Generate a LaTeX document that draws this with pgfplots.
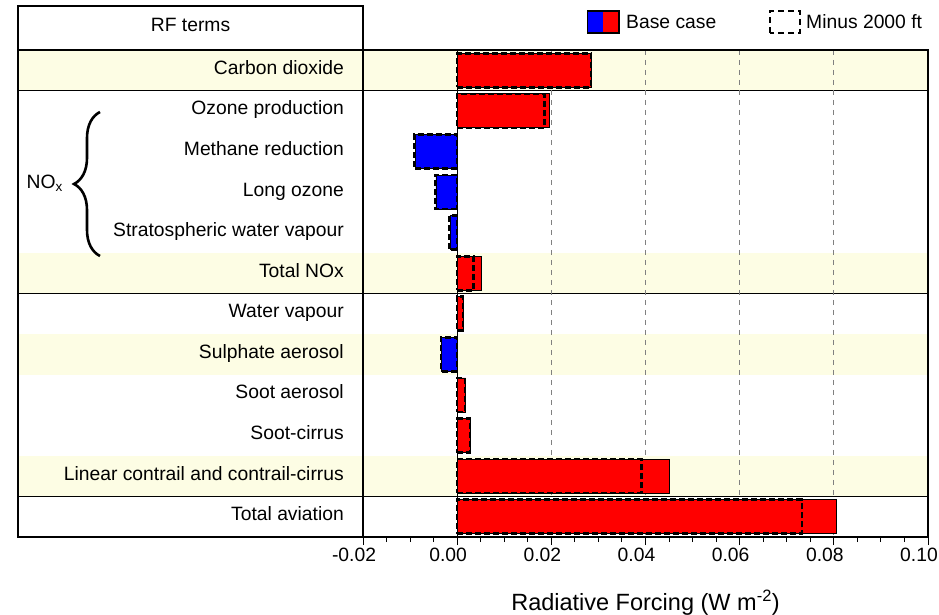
\documentclass[border=0pt]{standalone}
\usepackage{pgfplots}
\pgfplotsset{compat=1.18}
\usetikzlibrary{decorations.pathreplacing}
\usepackage{fontspec}
\setmainfont{Liberation Sans}
\definecolor{rowshade}{RGB}{253,253,228}
\definecolor{myred}{RGB}{255,0,0}
\definecolor{myblue}{RGB}{0,0,255}
\newcommand{\ff}{\fontsize{19.3bp}{23bp}\selectfont}

\begin{document}
\begin{tikzpicture}[x=1bp,y=1bp]
\useasboundingbox (0,0) rectangle (939,615);
% shaded rows
\fill[rowshade] (18,565) rectangle (928,524.42);
\fill[rowshade] (18,362.08) rectangle (928,321.5);
\fill[rowshade] (18,280.92) rectangle (928,240.33);
\fill[rowshade] (18,159.17) rectangle (928,118.58);
% table frame and separators
\draw[line width=1.3bp] (18,609) rectangle (363,78);
\draw[line width=1.3bp] (18,565) -- (928,565);
\draw[line width=1.3bp] (18,524.42) -- (928,524.42);
\draw[line width=1.3bp] (18,321.5) -- (928,321.5);
\draw[line width=1.3bp] (18,118.58) -- (928,118.58);
% header
\node[font=\ff, text height=1em, text depth=0.2em, inner sep=0] at (190.5,587.5) {RF terms};
% row labels
\foreach \lab [count=\i] in {Carbon dioxide,Ozone production,Methane reduction,Long ozone,Stratospheric water vapour,Total NOx,Water vapour,Sulphate aerosol,Soot aerosol,Soot-cirrus,Linear contrail and contrail-cirrus,Total aviation}{
  \node[font=\ff, anchor=east, text height=1em, text depth=0.2em, inner sep=0] at (344,{565-40.583*(\i-0.5)}) {\lab};
}
% NOx brace
\draw[line width=2.6bp, decorate, decoration={brace, amplitude=26bp}] (100,359) -- (100,503);
\node[anchor=east, inner sep=0, font=\ff] at (63,432) {NO\textsubscript{x}};
% legend
\fill[myblue] (587.7,582) rectangle (603.3,604);
\fill[myred] (603.3,582) rectangle (619,604);
\draw[line width=1.2bp] (587.7,582) rectangle (619,604);
\node[anchor=west, inner sep=0, font=\ff] at (626,593) {Base case};
\draw[line width=2.2bp, dash pattern=on 6bp off 4bp] (770,582) rectangle (800,604);
\node[anchor=west, inner sep=0, font=\ff] at (806,593) {Minus 2000 ft};

\begin{axis}[
  at={(363bp,78bp)}, anchor=south west,
  scale only axis, width=565bp, height=487bp,
  xmin=-0.02, xmax=0.10, ymin=0.5, ymax=12.5, y dir=reverse,
  xbar, bar width=34bp, bar shift=0pt,
  xtick={-0.02,0,0.02,0.04,0.06,0.08,0.10},
  minor x tick num=3,
  ytick=\empty,
  xtick pos=lower, tick align=outside,
  major tick length=8bp, minor tick length=5bp,
  tick style={black, line width=1bp},
  xmajorgrids,
  grid style={gray, line width=0.8bp, dash pattern=on 5bp off 5bp},
  scaled x ticks=false,
  xticklabel style={xshift=-9bp, /pgf/number format/.cd, fixed, fixed zerofill, precision=2, assume math mode=true},
  tick label style={font=\ff},
  axis line style={line width=1.3bp},
  clip=false,
  xlabel={Radiative Forcing (W m\textsuperscript{-2})},
  xlabel style={font=\fontsize{23.5bp}{26bp}\selectfont, at={(axis description cs:0.5,-0.1505)}, anchor=base},
]
\draw[line width=1bp] (axis cs:0,0.5) -- (axis cs:0,12.5);
% base case, positive
\addplot[fill=myred, draw=black, line width=0.8bp] coordinates {
 (0.0285,1) (0.0195,2) (0.0052,6) (0.0013,7) (0.0018,9) (0.0028,10) (0.0450,11) (0.0806,12)};
% base case, negative
\addplot[fill=myblue, draw=black, line width=0.8bp] coordinates {
 (-0.0088,3) (-0.0045,4) (-0.0015,5) (-0.0033,8)};
% minus 2000 ft
\addplot[fill=none, draw=black, line width=2.6bp, dash pattern=on 6bp off 3bp] coordinates {
 (0.0284,1) (0.0185,2) (-0.0092,3) (-0.0047,4) (-0.0017,5) (0.0035,6) (0.0012,7) (-0.0034,8) (0.0017,9) (0.0027,10) (0.0391,11) (0.0732,12)};
\end{axis}
\end{tikzpicture}
\end{document}
